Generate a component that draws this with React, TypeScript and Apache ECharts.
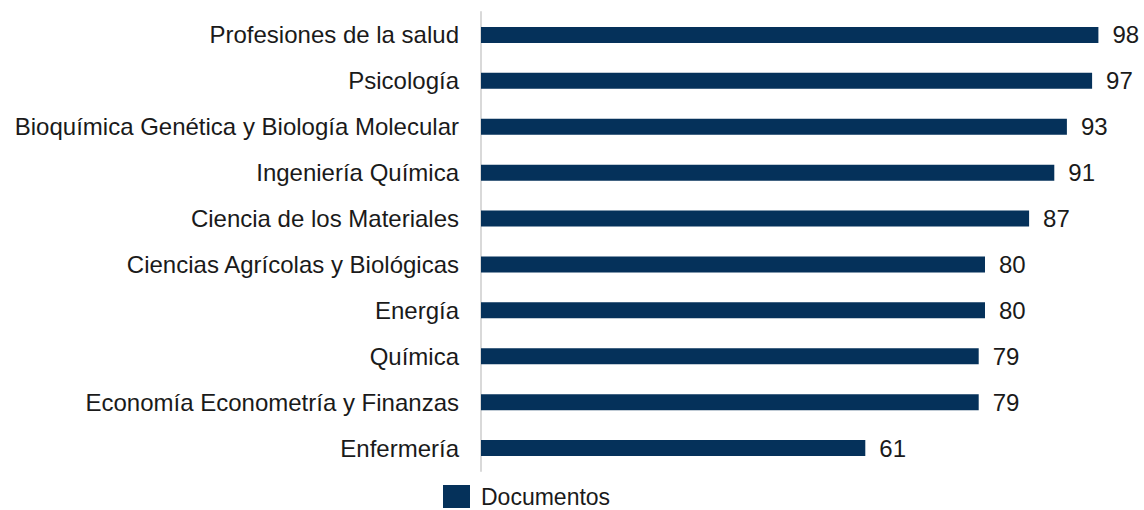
import React, { useEffect, useRef } from "react";
import * as echarts from "echarts";

const categories = [
  "Profesiones de la salud",
  "Psicología",
  "Bioquímica Genética y Biología Molecular",
  "Ingeniería Química",
  "Ciencia de los Materiales",
  "Ciencias Agrícolas y Biológicas",
  "Energía",
  "Química",
  "Economía Econometría y Finanzas",
  "Enfermería",
];
const values = [98, 97, 93, 91, 87, 80, 80, 79, 79, 61];
const seriesName = "Documentos";

const FONT = "'Liberation Sans', Arial, sans-serif";

export default function App() {
  const ref = useRef<HTMLDivElement>(null);
  useEffect(() => {
    document.body.style.margin = "0";
    const chart = echarts.init(ref.current!, null, { renderer: "svg" });
    chart.setOption({
      animation: false,
      backgroundColor: "#ffffff",
      textStyle: { fontFamily: FONT },
      grid: {
        left: 481,
        right: 33,
        top: 12,
        bottom: 39,
        containLabel: false,
        outerBoundsMode: "none",
      },
      legend: {
        data: [seriesName],
        left: 443,
        top: 485,
        padding: 0,
        itemWidth: 27,
        itemHeight: 23,
        icon: "rect",
        textStyle: {
          fontFamily: FONT,
          fontSize: 23,
          lineHeight: 23,
          color: "#1a1a1a",
          padding: [0, 0, 0, 6],
        },
      },
      xAxis: {
        type: "value",
        min: 0,
        max: 100,
        show: false,
        splitLine: { show: false },
      },
      yAxis: {
        type: "category",
        data: categories,
        inverse: true,
        axisLine: { show: true, lineStyle: { color: "#d9d9d9", width: 2 } },
        axisTick: { show: false },
        axisLabel: { fontFamily: FONT, fontSize: 24, color: "#1a1a1a", margin: 22 },
      },
      series: [
        {
          name: seriesName,
          type: "bar",
          data: values,
          barWidth: 16,
          itemStyle: { color: "#05315a" },
          label: {
            show: true,
            position: "right",
            distance: 14,
            fontFamily: FONT,
            fontSize: 24,
            color: "#1a1a1a",
          },
        },
      ],
    });
    return () => chart.dispose();
  }, []);
  return <div ref={ref} style={{ width: 1144, height: 510 }} />;
}
